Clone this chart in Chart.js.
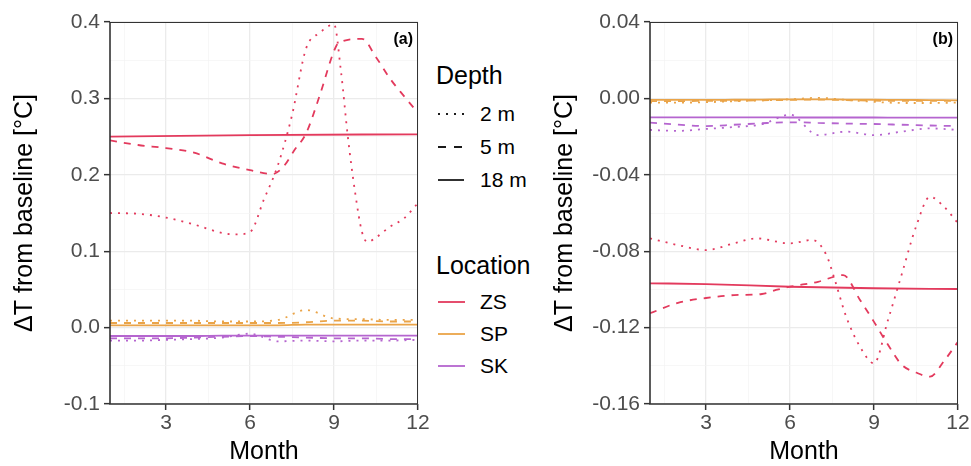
<!DOCTYPE html>
<html>
<head>
<meta charset="utf-8">
<script src="https://cdn.jsdelivr.net/npm/chart.js@4.4.1/dist/chart.umd.min.js"></script>
<style>
  body { margin: 0; background: #fff; width: 971px; height: 466px; position: relative; overflow: hidden;
         font-family: "Liberation Sans", Arial, sans-serif; }
  canvas { position: absolute; top: 0; }
  #chartA { left: 0; }
  #chartB { left: 540px; }
  .lg-title { position: absolute; left: 436px; font-size: 25px; line-height: 28px; color: #000; }
  .lg-row { position: absolute; left: 436px; height: 24px; width: 100px; }
  .lg-row svg { position: absolute; left: 2px; top: 7px; }
  .lg-row span { position: absolute; left: 44px; top: 0px; font-size: 21px; line-height: 24px; color: #000; }
</style>
</head>
<body>
<canvas id="chartA" width="430" height="466"></canvas>
<canvas id="chartB" width="431" height="466"></canvas>

<div class="lg-title" style="top:61px">Depth</div>
<div class="lg-row" style="top:102px"><svg width="30" height="10"><line x1="0" y1="5" x2="28" y2="5" stroke="#1a1a1a" stroke-width="1.8" stroke-dasharray="2 6"/></svg><span>2 m</span></div>
<div class="lg-row" style="top:135px"><svg width="30" height="10"><line x1="0" y1="5" x2="28" y2="5" stroke="#1a1a1a" stroke-width="1.8" stroke-dasharray="8 8"/></svg><span>5 m</span></div>
<div class="lg-row" style="top:168px"><svg width="30" height="10"><line x1="0" y1="5" x2="26" y2="5" stroke="#1a1a1a" stroke-width="1.8"/></svg><span>18 m</span></div>

<div class="lg-title" style="top:251px">Location</div>
<div class="lg-row" style="top:290px"><svg width="30" height="10"><line x1="0" y1="5" x2="27" y2="5" stroke="#E33A5D" stroke-width="1.8"/></svg><span>ZS</span></div>
<div class="lg-row" style="top:322px"><svg width="30" height="10"><line x1="0" y1="5" x2="27" y2="5" stroke="#EAA448" stroke-width="1.8"/></svg><span>SP</span></div>
<div class="lg-row" style="top:354px"><svg width="30" height="10"><line x1="0" y1="5" x2="27" y2="5" stroke="#B565CF" stroke-width="1.8"/></svg><span>SK</span></div>

<script>
// axis ticks
const xMajorTicks = [3, 6, 9, 12];
const xMinorTicks = [1.5, 4.5, 7.5, 10.5];
const months = [1, 2, 3, 4, 5, 6, 7, 8, 9, 10, 11, 12];

const aYMajor = [-0.1, 0, 0.1, 0.2, 0.3, 0.4];
const aYLabels = ['-0.1', '0.0', '0.1', '0.2', '0.3', '0.4'];
const aYMinor = [-0.05, 0.05, 0.15, 0.25, 0.35];

const bYMajor = [-0.16, -0.12, -0.08, -0.04, 0, 0.04];
const bYLabels = ['-0.16', '-0.12', '-0.08', '-0.04', '0.00', '0.04'];
const bYMinor = [-0.14, -0.10, -0.06, -0.02, 0.02];

// colours per location
const colZS = '#E33A5D';
const colSP = '#EAA448';
const colSK = '#B565CF';

// ---- panel (a) ----
const aZS18x = [1, 6, 12];
const aZS18 = [0.250, 0.252, 0.253];
const aZS5x = [1, 2, 3, 4, 5, 6, 6.8, 7.2, 7.6, 8, 8.5, 9, 9.15, 10, 10.5, 11, 11.5, 12];
const aZS5 = [0.245, 0.239, 0.235, 0.229, 0.215, 0.206, 0.201, 0.211, 0.233, 0.254, 0.305, 0.362, 0.372, 0.378, 0.354, 0.326, 0.303, 0.281];
const aZS2x = [1, 2, 3, 4, 5, 5.5, 6, 6.5, 7, 7.5, 8, 8.5, 9, 9.25, 9.5, 9.75, 10, 10.2, 10.5, 11, 11.5, 12];
const aZS2 = [0.150, 0.149, 0.144, 0.135, 0.124, 0.122, 0.125, 0.168, 0.213, 0.278, 0.365, 0.386, 0.397, 0.335, 0.248, 0.178, 0.125, 0.112, 0.118, 0.132, 0.143, 0.163];
const aSP18 = [0.003, 0.003, 0.003, 0.003, 0.003, 0.003, 0.003, 0.004, 0.004, 0.004, 0.004, 0.004];
const aSP5 = [0.006, 0.006, 0.006, 0.006, 0.006, 0.006, 0.006, 0.007, 0.009, 0.009, 0.008, 0.008];
const aSP2 = [0.009, 0.009, 0.009, 0.009, 0.008, 0.008, 0.010, 0.023, 0.012, 0.011, 0.010, 0.010];
const aSK18 = [-0.011, -0.011, -0.011, -0.011, -0.0105, -0.0105, -0.0105, -0.0105, -0.0105, -0.0105, -0.0105, -0.0105];
const aSK5 = [-0.014, -0.014, -0.014, -0.013, -0.012, -0.011, -0.012, -0.013, -0.014, -0.014, -0.015, -0.015];
const aSK2 = [-0.017, -0.017, -0.016, -0.015, -0.013, -0.008, -0.018, -0.017, -0.018, -0.017, -0.017, -0.016];

// ---- panel (b) ----
const bZS18x = [1, 3, 6, 9, 12];
const bZS18 = [-0.0968, -0.0972, -0.0986, -0.0994, -0.0998];
const bZS5x = [1, 2, 3, 4, 5, 5.5, 6, 7, 7.9, 8.5, 9, 9.5, 10, 10.5, 11, 11.5, 12];
const bZS5 = [-0.1125, -0.107, -0.1045, -0.103, -0.1024, -0.1003, -0.0986, -0.096, -0.0925, -0.1055, -0.117, -0.129, -0.1396, -0.1435, -0.1457, -0.1375, -0.1274];
const bZS2x = [1, 2, 3, 4, 4.8, 6, 6.8, 7.3, 7.6, 8, 8.5, 9, 9.5, 10, 10.5, 11, 11.5, 12];
const bZS2 = [-0.0733, -0.0768, -0.0794, -0.0759, -0.0733, -0.0759, -0.0741, -0.082, -0.095, -0.114, -0.130, -0.1387, -0.116, -0.0916, -0.0672, -0.0515, -0.0567, -0.0654];
const bSP18 = [-0.0008, -0.0008, -0.0008, -0.0007, -0.0006, -0.0005, -0.0005, -0.0006, -0.0007, -0.0008, -0.0009, -0.0010];
const bSP5 = [-0.0014, -0.0014, -0.0013, -0.0012, -0.0010, -0.0008, -0.0006, -0.0009, -0.0012, -0.0013, -0.0013, -0.0013];
const bSP2 = [-0.0022, -0.0022, -0.0020, -0.0015, -0.0010, -0.0005, 0.0003, -0.0008, -0.0018, -0.0024, -0.0024, -0.0022];
const bSK18 = [-0.0099, -0.0099, -0.0099, -0.0099, -0.0099, -0.0100, -0.0100, -0.0100, -0.0100, -0.0101, -0.0101, -0.0101];
const bSK5 = [-0.0127, -0.0137, -0.0145, -0.0138, -0.0130, -0.0125, -0.0128, -0.0132, -0.0134, -0.0138, -0.0142, -0.0145];
const bSK2 = [-0.0165, -0.0170, -0.0160, -0.0150, -0.0135, -0.0085, -0.0192, -0.0174, -0.0192, -0.0174, -0.0157, -0.0165];

const dotted = [2, 6];
const dashed = [7, 7];
const fontFamily = '"Liberation Sans", Arial, sans-serif';

function series(xs, ys, color, dash) {
    return {
        data: xs.map((x, i) => ({ x: x, y: ys[i] })),
        borderColor: color,
        borderDash: dash,
        borderWidth: 1.8,
        pointRadius: 0,
        fill: false,
        cubicInterpolationMode: 'monotone'
    };
}

function isIn(list, v) {
    return list.some(t => Math.abs(t - v) < 1e-9);
}

// border round the panel and the (a)/(b) tag
const panelPlugin = {
    id: 'panel',
    afterDatasetsDraw(chart, args, opts) {
        const a = chart.chartArea;
        const ctx = chart.ctx;
        ctx.save();
        ctx.strokeStyle = '#333333';
        ctx.lineWidth = 1;
        ctx.beginPath();
        ctx.moveTo(a.left, a.top + 0.5);
        ctx.lineTo(a.right, a.top + 0.5);
        ctx.moveTo(a.right - 0.5, a.top);
        ctx.lineTo(a.right - 0.5, a.bottom);
        ctx.stroke();
        ctx.lineWidth = 1.6;
        ctx.beginPath();
        ctx.moveTo(a.left, a.top);
        ctx.lineTo(a.left, a.bottom);
        ctx.lineTo(a.right, a.bottom);
        ctx.stroke();
        ctx.fillStyle = '#000';
        ctx.font = 'bold 16px ' + fontFamily;
        ctx.textAlign = 'right';
        ctx.textBaseline = 'alphabetic';
        ctx.fillText(opts.tag, a.right - 5, a.top + 22);
        ctx.restore();
    }
};

function drawPanel(id, datasets, yMin, yMax, yMajor, yLabels, yMinor, tag, rightPad) {
    const ctx = document.getElementById(id);
    return new Chart(ctx, {
        type: 'line',
        data: { datasets: datasets },
        plugins: [panelPlugin],
        options: {
            responsive: false,
            animation: false,
            devicePixelRatio: 1,
            layout: { padding: { left: 0, top: 22, right: rightPad, bottom: 0 } },
            plugins: {
                legend: { display: false },
                tooltip: { enabled: false },
                panel: { tag: tag }
            },
            scales: {
                x: {
                    type: 'linear',
                    min: 1,
                    max: 12,
                    afterBuildTicks: s => {
                        s.ticks = xMinorTicks.concat(xMajorTicks).sort((p, q) => p - q).map(v => ({ value: v }));
                    },
                    afterFit: s => {
                        s.height = 62;
                        s.paddingLeft = 0; s.paddingRight = 0;
                    },
                    border: { display: false },
                    grid: {
                        color: c => isIn(xMajorTicks, c.tick.value) ? '#EBEBEB' : '#F4F4F4',
                        lineWidth: c => isIn(xMajorTicks, c.tick.value) ? 1.3 : 0.7,
                        tickColor: c => isIn(xMajorTicks, c.tick.value) ? '#333333' : 'rgba(0,0,0,0)',
                        tickLength: 6,
                        tickWidth: 1.5
                    },
                    ticks: {
                        autoSkip: false,
                        maxRotation: 0,
                        padding: 1,
                        color: '#4D4D4D',
                        font: { family: fontFamily, size: 21 },
                        callback: v => isIn(xMajorTicks, v) ? String(v) : ''
                    },
                    title: {
                        display: true,
                        text: 'Month',
                        color: '#000',
                        padding: { top: 0, bottom: 0 },
                        font: { family: fontFamily, size: 25, lineHeight: 1.1 }
                    }
                },
                y: {
                    type: 'linear',
                    min: yMin,
                    max: yMax,
                    afterBuildTicks: s => {
                        s.ticks = yMinor.concat(yMajor).sort((p, q) => p - q).map(v => ({ value: v }));
                    },
                    afterFit: s => {
                        s.width = 110;
                        s.paddingTop = 0; s.paddingBottom = 0;
                    },
                    border: { display: false },
                    grid: {
                        color: c => isIn(yMajor, c.tick.value) ? '#EBEBEB' : '#F4F4F4',
                        lineWidth: c => isIn(yMajor, c.tick.value) ? 1.3 : 0.7,
                        tickColor: c => isIn(yMajor, c.tick.value) ? '#333333' : 'rgba(0,0,0,0)',
                        tickLength: 6,
                        tickWidth: 1.5
                    },
                    ticks: {
                        autoSkip: false,
                        padding: 4,
                        color: '#4D4D4D',
                        font: { family: fontFamily, size: 21 },
                        callback: v => {
                            const i = yMajor.findIndex(t => Math.abs(t - v) < 1e-9);
                            return i >= 0 ? yLabels[i] : '';
                        }
                    },
                    title: {
                        display: true,
                        text: 'ΔT from baseline [°C]',
                        color: '#000',
                        padding: { top: 10, bottom: 0 },
                        font: { family: fontFamily, size: 25, lineHeight: 1.2 }
                    }
                }
            }
        }
    });
}

drawPanel('chartA', [
    series(months, aSP2, colSP, dotted),
    series(months, aSP5, colSP, dashed),
    series(months, aSP18, colSP, []),
    series(months, aSK2, colSK, dotted),
    series(months, aSK5, colSK, dashed),
    series(months, aSK18, colSK, []),
    series(aZS2x, aZS2, colZS, dotted),
    series(aZS5x, aZS5, colZS, dashed),
    series(aZS18x, aZS18, colZS, [])
], -0.1, 0.4, aYMajor, aYLabels, aYMinor, '(a)', 12);

drawPanel('chartB', [
    series(months, bSP2, colSP, dotted),
    series(months, bSP5, colSP, dashed),
    series(months, bSP18, colSP, []),
    series(months, bSK2, colSK, dotted),
    series(months, bSK5, colSK, dashed),
    series(months, bSK18, colSK, []),
    series(bZS2x, bZS2, colZS, dotted),
    series(bZS5x, bZS5, colZS, dashed),
    series(bZS18x, bZS18, colZS, [])
], -0.16, 0.04, bYMajor, bYLabels, bYMinor, '(b)', 13);
</script>
</body>
</html>
